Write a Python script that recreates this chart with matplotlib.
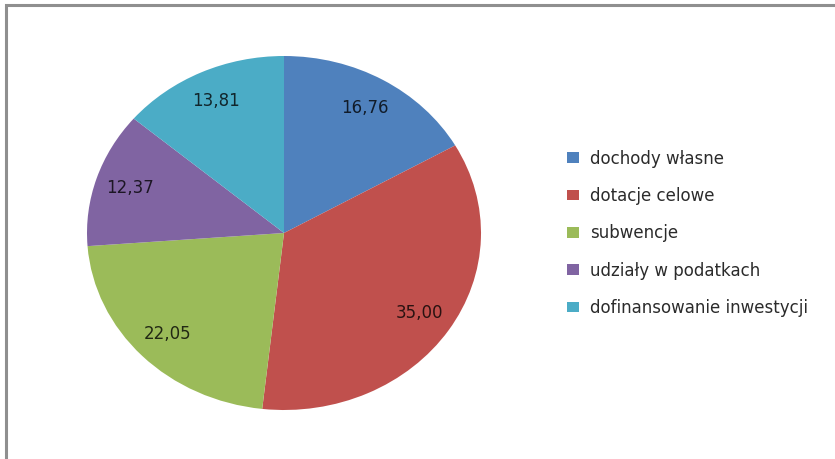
import matplotlib
matplotlib.use("Agg")
import matplotlib.pyplot as plt
from matplotlib.patches import Patch, Rectangle
from matplotlib.colors import to_rgb
import numpy as np

categories = ["dochody własne", "dotacje celowe", "subwencje",
              "udziały w podatkach", "dofinansowanie inwestycji"]
values = [16.76, 35.00, 22.05, 12.37, 13.81]
colors = ["#4F81BD", "#C0504D", "#9BBB59", "#8064A2", "#4BACC6"]

W, H = 835, 459
fig = plt.figure(figsize=(W / 100, H / 100), dpi=100)
fig.patch.set_facecolor("white")

# outer frame (only left and top visible in the cropped reference)
fig.add_artist(Rectangle((6 / W, -0.1), 1.2, (H - 5) / H + 0.1,
                         transform=fig.transFigure, fill=False,
                         edgecolor="#8f8f8f", linewidth=2.2))

ax = fig.add_axes([87 / W, (H - 410) / H, 394 / W, 354 / H])
wedges, _ = ax.pie(values, colors=colors, startangle=90, counterclock=False,
                   wedgeprops=dict(linewidth=0))
ax.set_aspect("auto")
ax.set_xlim(-1, 1)
ax.set_ylim(-1, 1)

for w, v, c in zip(wedges, values, colors):
    mid = np.deg2rad((w.theta1 + w.theta2) / 2)
    dark = tuple(0.22 * x for x in to_rgb(c))
    ax.text(0.82 * np.cos(mid), 0.82 * np.sin(mid), f"{v:.2f}".replace(".", ","),
            ha="center", va="center", fontsize=12, color=dark)

handles = [Patch(facecolor=c, edgecolor="none") for c in colors]
fig.legend(handles, categories, loc="upper left",
           bbox_to_anchor=(560 / W, (H - 143) / H), frameon=False,
           fontsize=12, labelspacing=1.16, handlelength=0.72,
           handleheight=0.6, handletextpad=0.68, labelcolor="#2b2b2b",
           borderaxespad=0)

fig.savefig("out.png", dpi=100, facecolor="white")
